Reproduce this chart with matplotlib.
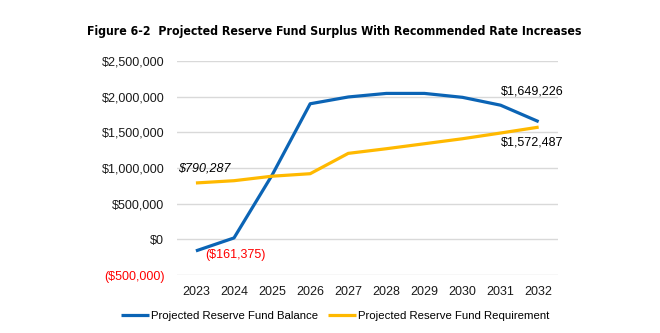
import numpy as np
import matplotlib
matplotlib.use("Agg")
from matplotlib import pyplot as plt
from matplotlib.ticker import FuncFormatter

years = ["2023", "2024", "2025", "2026", "2027", "2028", "2029", "2030", "2031", "2032"]
balance = [-161375, 20000, 900000, 1900000, 1995000, 2045000, 2045000, 1990000, 1880000, 1649226]
requirement = [790287, 822000, 885000, 920000, 1205000, 1270000, 1340000, 1410000, 1490000, 1572487]
yticks = [-500000, 0, 500000, 1000000, 1500000, 2000000, 2500000]

plt.rcParams["font.family"] = ["Liberation Sans", "DejaVu Sans"]

blue = "#0b64b5"
gold = "#ffb900"


def money(v, pos=None):
    if v < 0:
        return "(${:,.0f})".format(-v)
    return "${:,.0f}".format(v)


fig = plt.figure(figsize=(6.6, 3.33), dpi=100)
ax = fig.add_axes([0.268, 0.174, 0.577, 0.643])
x = np.arange(len(years))
ax.plot(x, balance, color=blue, lw=2.3, label="Projected Reserve Fund Balance", solid_capstyle="butt")
ax.plot(x, requirement, color=gold, lw=2.3, label="Projected Reserve Fund Requirement", solid_capstyle="butt")

ax.set_xlim(-0.5, len(years) - 0.5)
ax.set_ylim(yticks[0], yticks[-1])
ax.set_yticks(yticks)
ax.yaxis.set_major_formatter(FuncFormatter(money))
ax.set_xticks(x)
ax.set_xticklabels(years)
ax.grid(axis="y", color="#d9d9d9", lw=1)
ax.set_axisbelow(True)
for s in ax.spines.values():
    s.set_visible(False)
ax.tick_params(length=0, labelsize=9, colors="#1a1a1a")
ax.tick_params(axis="y", pad=9)
ax.tick_params(axis="x", pad=8)
for lbl in ax.get_yticklabels():
    if lbl.get_text().startswith("("):
        lbl.set_color("#ff0000")

# data labels
ax.annotate(money(requirement[0]), (x[0], requirement[0]), xytext=(-13, 10.5),
            textcoords="offset points", fontsize=9, style="italic", ha="left", va="center")
ax.annotate(money(balance[0]), (x[0], balance[0]), xytext=(7, -3),
            textcoords="offset points", fontsize=9, color="#ff0000", ha="left", va="center")
ax.annotate(money(balance[-1]), (x[-1], balance[-1]), xytext=(18, 22),
            textcoords="offset points", fontsize=9, ha="right", va="center")
ax.annotate(money(requirement[-1]), (x[-1], requirement[-1]), xytext=(18, -11),
            textcoords="offset points", fontsize=9, ha="right", va="center")

fig.text(0.506, 0.905, "Figure 6-2  Projected Reserve Fund Surplus With Recommended Rate Increases",
         ha="center", va="center", fontsize=8.8, fontweight="bold",
         family="DejaVu Sans", fontstretch="condensed")

fig.legend(loc="center", bbox_to_anchor=(0.508, 0.05), ncol=2, frameon=False,
           fontsize=8.2, handlelength=2.5, handletextpad=0.2, columnspacing=0.8)

fig.savefig("out.png", dpi=100)
